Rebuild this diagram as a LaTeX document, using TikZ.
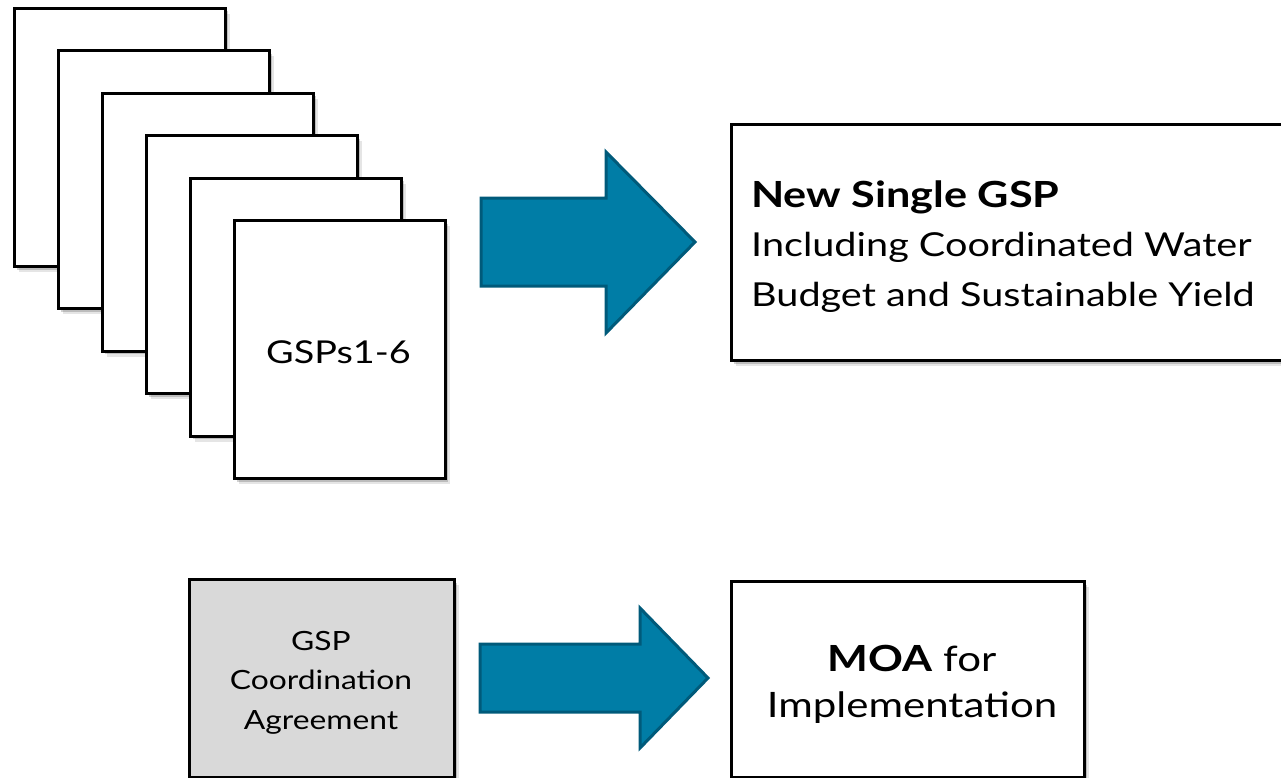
\documentclass[tikz,border=0pt]{standalone}
\usepackage{fontspec}
\setmainfont[FakeStretch=1.2]{Lato}
\usetikzlibrary{shadows}
\definecolor{arrowfill}{RGB}{0,125,166}
\definecolor{arrowline}{RGB}{0,90,122}
\definecolor{boxgray}{RGB}{217,217,217}
\begin{document}
\begin{tikzpicture}[x=1pt,y=-1pt,
  shd/.style={general shadow={shadow xshift=2.5pt,shadow yshift=-3pt,fill=black,opacity=0.18},
              general shadow={shadow xshift=4.5pt,shadow yshift=-5.5pt,fill=black,opacity=0.10}},
  page/.style={draw=black,line width=3pt,fill=white,minimum width=211pt,minimum height=258pt,
               anchor=north west,inner sep=0pt,shd},
  blockbox/.style={draw=black,line width=3pt,anchor=north west,inner sep=0pt,shd},
  bigarrow/.style={fill=arrowfill,draw=arrowline,line width=3pt,line join=miter},
  txt/.style={inner sep=0pt}]
\useasboundingbox (0,0) rectangle (1281,778);
% stack of plans
\node[page] (p1) at (13,7) {};
\node[page] (p2) at (57,49.4) {};
\node[page] (p3) at (101,91.8) {};
\node[page] (p4) at (145,134.2) {};
\node[page] (p5) at (189,176.6) {};
\node[page] (p6) at (233,219) {};
\node[txt,anchor=base,font=\fontsize{31.5}{38}\selectfont] (gsps) at (338.5,363) {GSPs1-6};
% upper arrow
\draw[bigarrow] (481,198) -- (606,198) -- (606,152) -- (695,242) -- (606,333) -- (606,286) -- (481,286) -- cycle;
% new single GSP box
\node[blockbox,fill=white,minimum width=580pt,minimum height=236pt] (newgsp) at (730,123) {};
\node[txt,anchor=base west,font=\fontsize{33}{50}\selectfont] (newgsptxt) at (751,207)
  {\begin{tabular}[t]{@{}l@{}}{\fontsize{36}{50}\selectfont\bfseries New Single GSP}\\Including Coordinated Water\\Budget and Sustainable Yield\end{tabular}};
% coordination agreement box
\node[blockbox,fill=boxgray,minimum width=265pt,minimum height=198pt] (coord) at (188,578) {};
\node[txt,anchor=base,font=\fontsize{26.5}{39.5}\selectfont] (coordtxt) at (321,650)
  {\begin{tabular}[t]{@{}c@{}}GSP\\Coordination\\Agreement\end{tabular}};
% lower arrow
\draw[bigarrow] (480,644) -- (640,644) -- (640,608) -- (708,678) -- (640,748) -- (640,712) -- (480,712) -- cycle;
% MOA box
\node[blockbox,fill=white,minimum width=353pt,minimum height=196pt] (moa) at (730,580) {};
\node[txt,anchor=base,font=\fontsize{35}{46}\selectfont] (moatxt) at (912,671)
  {\begin{tabular}[t]{@{}c@{}}{\fontsize{36}{46}\selectfont\bfseries MOA} for\\Implementation\end{tabular}};
\end{tikzpicture}
\end{document}
